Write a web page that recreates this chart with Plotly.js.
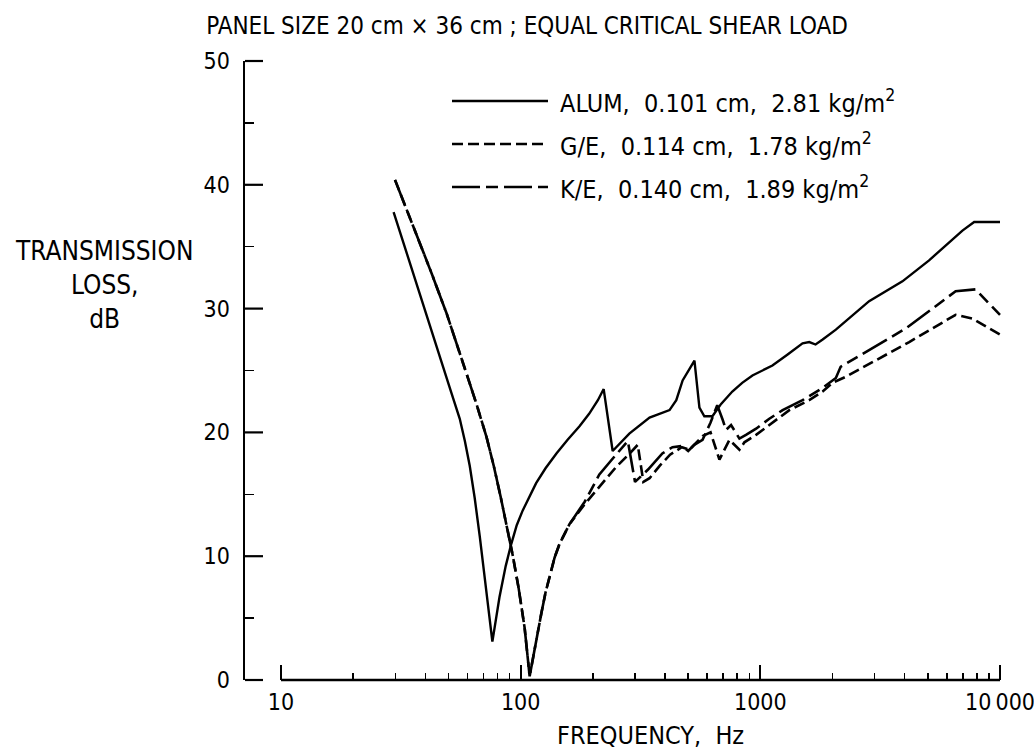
<!DOCTYPE html>
<html>
<head>
<meta charset="utf-8">
<script src="https://cdn.plot.ly/plotly-3.0.1.min.js"></script>
<style>html,body{margin:0;padding:0;background:#fff;}</style>
</head>
<body>
<div id="chart" style="width:1034px;height:750px;"></div>
<script>
// ---- data ----
const alumFreq = [29.5, 32.9, 36.9, 41.8, 46.4, 51.6, 55.7, 58.5, 61.3, 64.3, 67.5, 70.8, 73.6, 76.2, 81.6, 86.6, 91.4, 96.3, 102, 109, 116, 127, 141, 157, 176, 193, 210, 222, 242, 284, 345, 418, 446, 474, 531, 557, 584, 631, 686, 764, 840, 927, 1000, 1123, 1300, 1500, 1600, 1700, 1820, 2066, 2844, 3917, 5060, 6970, 7800, 10000];
const alumTL   = [37.8, 34.9, 31.9, 28.6, 25.9, 23.1, 21.1, 19.3, 17.3, 14.7, 11.6, 8.3, 5.6, 3.1, 6.7, 9.2, 11.0, 12.5, 13.7, 14.8, 15.9, 17.1, 18.3, 19.4, 20.5, 21.5, 22.6, 23.5, 18.5, 19.9, 21.2, 21.8, 22.6, 24.2, 25.8, 22.0, 21.3, 21.3, 22.3, 23.3, 24.0, 24.6, 24.9, 25.4, 26.3, 27.2, 27.3, 27.1, 27.5, 28.3, 30.6, 32.2, 33.9, 36.3, 37.0, 37.0];

const geFreq = [29.9, 33.2, 36.7, 42.6, 49.1, 56.8, 65.4, 72.1, 77.2, 82.5, 87.4, 92.6, 98.1, 103.9, 109, 114.4, 122, 127.1, 132.1, 138.6, 145.3, 160, 185, 213, 250, 285, 308, 325, 345, 380, 420, 470, 506, 574, 620, 675, 743, 818, 858, 960, 1090, 1321, 1600, 1820, 1999, 2275, 4180, 6530, 7650, 10000];
const geTL   = [40.4, 38.1, 36.0, 32.8, 29.6, 25.9, 22.3, 19.6, 17.3, 14.8, 12.5, 10.1, 7.4, 4.2, 0.3, 2.6, 5.4, 7.1, 8.4, 9.9, 11.0, 12.6, 14.2, 15.6, 17.2, 18.3, 19.0, 16.0, 16.3, 17.3, 18.2, 18.8, 18.6, 19.7, 20.0, 17.8, 19.4, 18.6, 19.2, 19.8, 20.6, 21.8, 22.6, 23.3, 24.0, 24.5, 27.3, 29.5, 29.2, 27.9];

const keFreq = [29.9, 33.2, 36.7, 42.6, 49.1, 56.8, 65.4, 72.1, 77.2, 82.5, 87.4, 92.6, 98.1, 103.9, 109, 114.4, 122, 127.1, 132.1, 138.6, 145.3, 160, 185, 213, 250, 280, 300, 340, 390, 430, 470, 500, 530, 574, 620, 661, 697, 719, 755, 818, 871, 960, 1090, 1239, 1500, 1820, 2066, 2163, 4050, 6530, 7900, 10000];
const keTL   = [40.4, 38.1, 36.0, 32.8, 29.6, 25.9, 22.3, 19.6, 17.3, 14.8, 12.5, 10.1, 7.4, 4.2, 0.3, 2.6, 5.4, 7.1, 8.4, 9.9, 11.0, 12.6, 14.4, 16.6, 18.2, 19.3, 16.0, 17.0, 18.3, 18.8, 18.9, 18.5, 19.0, 19.4, 20.8, 22.2, 21.0, 20.2, 20.6, 19.5, 19.8, 20.3, 21.1, 21.8, 22.6, 23.6, 24.4, 25.3, 28.4, 31.4, 31.55, 29.5];

const seriesNames = [
  "ALUM,\u00a0 0.101 cm,\u00a0 2.81 kg/m<sup>2</sup>",
  "G/E,\u00a0 0.114 cm,\u00a0 1.78 kg/m<sup>2</sup>",
  "K/E,\u00a0 0.140 cm,\u00a0 1.89 kg/m<sup>2</sup>"
];
const xTickVals = [10, 100, 1000, 10000];
const xTickText = ["10", "100", "1000", "10\u2009000"];
const xMinorVals = [20,30,40,50,60,70,80,90,200,300,400,500,600,700,800,900,2000,3000,4000,5000,6000,7000,8000,9000];
const yRange = [0, 50];
const yTickVals = [0, 10, 20, 30, 40, 50];
const yMinorVals = [5, 15, 25, 35, 45];

const FONT = "'Liberation Sans Narrow', 'DejaVu Sans Condensed', 'Roboto Condensed', 'Liberation Sans', sans-serif";
const dashes = ["solid", "11px,5px", "28px,6px,12px,6px"];
const widths = [2.4, 2.6, 2.6];

const traces = [
  {x: alumFreq, y: alumTL, name: seriesNames[0]},
  {x: geFreq, y: geTL, name: seriesNames[1]},
  {x: keFreq, y: keTL, name: seriesNames[2]}
].map((t, i) => Object.assign(t, {
  type: "scatter", mode: "lines",
  line: {color: "#000", width: widths[i], dash: dashes[i]},
  showlegend: false, hoverinfo: "x+y"
}));

// plot-area pixel frame
const L = 245, R = 1003, T = 61, B = 680;
const X10 = 281, X10K = 1000;
const px = v => (v - L) / (R - L);
const py = v => (B - v) / (B - T);
const decadePx = (X10K - X10) / 3;
const xRange = [1 - (X10 - L) / decadePx, 4 + (R - X10K) / decadePx];

const legendRows = [101, 144, 187];
const shapes = legendRows.map((r, i) => ({
  type: "line", xref: "paper", yref: "paper",
  x0: px(452), x1: px(548), y0: py(r), y1: py(r),
  line: {color: "#000", width: widths[i], dash: dashes[i]}
}));
// frequency axis line (starts right of the level axis, as in the original)
shapes.push({
  type: "line", xref: "paper", yref: "paper",
  x0: px(X10), x1: px(X10K), y0: 0, y1: 0,
  line: {color: "#000", width: 2.5}
});
// major level-axis ticks, pointing into the plot
yTickVals.forEach(v => shapes.push({
  type: "line", xref: "paper", yref: "paper",
  x0: 0, x1: 18 / (R - L),
  y0: (v - yRange[0]) / (yRange[1] - yRange[0]),
  y1: (v - yRange[0]) / (yRange[1] - yRange[0]),
  line: {color: "#000", width: 2.2}
}));

const annotations = legendRows.map((r, i) => ({
  xref: "paper", yref: "paper", x: px(558), y: py(r),
  xanchor: "left", yanchor: "middle", showarrow: false,
  text: seriesNames[i], font: {family: FONT, size: 25, color: "#000"}
}));
annotations.push({
  xref: "paper", yref: "paper", x: px(104), y: py(285),
  xanchor: "center", yanchor: "middle", showarrow: false, align: "center",
  text: "TRANSMISSION<br>LOSS,<br>dB",
  font: {family: FONT, size: 26, color: "#000"}
});
annotations.push({
  xref: "paper", yref: "paper", x: px(650), y: py(735),
  xanchor: "center", yanchor: "middle", showarrow: false,
  text: "FREQUENCY,\u00a0 Hz",
  font: {family: FONT, size: 25, color: "#000"}
});

const layout = {
  width: 1034, height: 750,
  margin: {l: L, r: 1034 - R, t: T, b: 750 - B},
  paper_bgcolor: "#fff", plot_bgcolor: "#fff",
  font: {family: FONT, size: 22, color: "#000"},
  title: {
    text: "PANEL SIZE 20 cm \u00d7 36 cm ; EQUAL CRITICAL SHEAR LOAD",
    font: {family: FONT, size: 24, color: "#000"},
    x: 527 / 1034, xref: "container", xanchor: "center",
    y: 1 - 26 / 750, yref: "container", yanchor: "middle"
  },
  xaxis: {
    type: "log", range: xRange,
    showline: false, showgrid: false, zeroline: false,
    ticks: "inside", ticklen: 15, tickwidth: 2, tickcolor: "#000",
    tickmode: "array", tickvals: xTickVals, ticktext: xTickText,
    ticklabelstandoff: 6, ticklabeloverflow: "allow",
    minor: {ticks: "inside", ticklen: 7, tickwidth: 1.5, tickcolor: "#000", tickmode: "array", tickvals: xMinorVals, showgrid: false},
    tickfont: {family: FONT, size: 23, color: "#000"}
  },
  yaxis: {
    range: yRange,
    showline: true, linecolor: "#000", linewidth: 2.5,
    showgrid: false, zeroline: false,
    ticks: "", tickmode: "array", tickvals: yTickVals,
    ticklabelstandoff: 8,
    minor: {ticks: "inside", ticklen: 9, tickwidth: 1.5, tickcolor: "#000", tickmode: "array", tickvals: yMinorVals, showgrid: false},
    tickfont: {family: FONT, size: 23, color: "#000"}
  },
  shapes: shapes,
  annotations: annotations
};

Plotly.newPlot("chart", traces, layout, {displayModeBar: false, staticPlot: true});
</script>
</body>
</html>
